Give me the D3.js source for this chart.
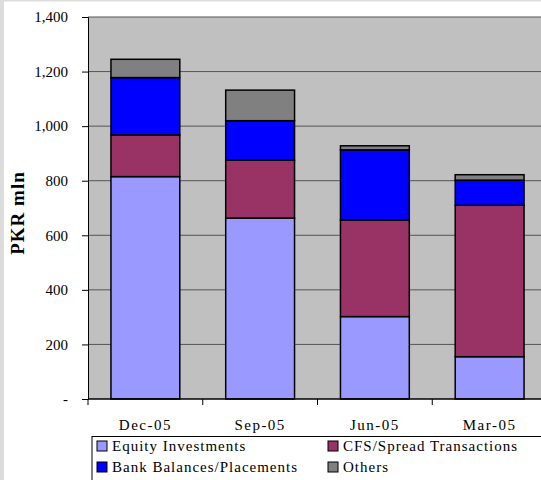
<!DOCTYPE html>
<html>
<head>
<meta charset="utf-8">
<script src="https://cdn.jsdelivr.net/npm/d3@7"></script>
<style>
  html, body { margin: 0; padding: 0; background: #ffffff; }
  svg { display: block; font-family: "Liberation Serif", "Times New Roman", serif; }
</style>
</head>
<body>
<svg id="chart" width="541" height="480"></svg>
<script>
// Quarter-end balances, PKR mln
const periods = ["Dec-05", "Sep-05", "Jun-05", "Mar-05"];
const seriesNames = ["Equity Investments", "CFS/Spread Transactions", "Bank Balances/Placements", "Others"];
const equityInvestments = [815, 663, 302, 155];
const cfsSpread = [153, 212, 354, 555];
const bankBalances = [210, 145, 257, 92];
const others = [67, 112, 15, 20];
const yTicks = [0, 200, 400, 600, 800, 1000, 1200, 1400];
const colors = ["#9999ff", "#993366", "#0000ff", "#808080"];

const rows = periods.map((p, i) => ({
  period: p,
  "Equity Investments": equityInvestments[i],
  "CFS/Spread Transactions": cfsSpread[i],
  "Bank Balances/Placements": bankBalances[i],
  "Others": others[i]
}));

const svg = d3.select("#chart");
const W = 541, H = 480;
const plot = { left: 88, top: 17, right: 547, bottom: 399 };

// frame strips
svg.append("rect").attr("x", 0).attr("y", 0).attr("width", W).attr("height", H).attr("fill", "#ffffff");
svg.append("rect").attr("x", 0).attr("y", 0).attr("width", 4).attr("height", H).attr("fill", "#dcdcdc");
svg.append("rect").attr("x", 0).attr("y", 0).attr("width", W).attr("height", 1.5).attr("fill", "#dcdcdc");

const x = d3.scaleBand().domain(periods).range([plot.left, plot.right]).paddingInner(0.4).paddingOuter(0.2);
const xb = d3.scaleBand().domain(periods).range([plot.left, plot.right]);
const y = d3.scaleLinear().domain([0, 1400]).range([plot.bottom, plot.top]);

// plot area
svg.append("rect")
  .attr("x", plot.left).attr("y", plot.top)
  .attr("width", plot.right - plot.left).attr("height", plot.bottom - plot.top)
  .attr("fill", "#c0c0c0");

// gridlines
svg.append("g").selectAll("line").data(yTicks.filter(t => t > 0)).join("line")
  .attr("x1", plot.left).attr("x2", plot.right)
  .attr("y1", d => y(d)).attr("y2", d => y(d))
  .attr("stroke", "#555555").attr("stroke-width", 1);

// stacked bars
const stack = d3.stack().keys(seriesNames);
const layers = stack(rows);
svg.append("g").selectAll("g").data(layers).join("g")
  .attr("fill", (d, i) => colors[i])
  .selectAll("rect").data(d => d).join("rect")
  .attr("x", d => x(d.data.period))
  .attr("width", x.bandwidth())
  .attr("y", d => y(d[1]))
  .attr("height", d => y(d[0]) - y(d[1]))
  .attr("stroke", "#000000").attr("stroke-width", 1.5);

// y axis
const yAxis = d3.axisLeft(y).tickValues(yTicks).tickSize(6).tickPadding(14)
  .tickFormat(d => d === 0 ? "-" : d3.format(",")(d));
const gy = svg.append("g").attr("transform", `translate(${plot.left},0)`).call(yAxis);
gy.select(".domain").attr("stroke", "#000000").attr("stroke-width", 1);
gy.selectAll(".tick line").attr("stroke", "#000000");
gy.selectAll(".tick text").attr("font-size", 15).attr("fill", "#000000")
  .attr("font-family", "Liberation Serif, serif");

// x axis
svg.append("line").attr("x1", plot.left).attr("x2", plot.right)
  .attr("y1", plot.bottom).attr("y2", plot.bottom).attr("stroke", "#000000").attr("stroke-width", 1.5);
svg.append("g").selectAll("line").data(periods).join("line")
  .attr("x1", d => xb(d)).attr("x2", d => xb(d))
  .attr("y1", plot.bottom).attr("y2", plot.bottom + 6)
  .attr("stroke", "#000000");
svg.append("g").selectAll("text").data(periods).join("text")
  .attr("x", d => xb(d) + xb.bandwidth() / 2)
  .attr("y", 430)
  .attr("text-anchor", "middle")
  .attr("font-size", 15)
  .attr("letter-spacing", "1.5px")
  .text(d => d);

// y title
svg.append("text")
  .attr("transform", "translate(24,213) rotate(-90)")
  .attr("text-anchor", "middle")
  .attr("font-size", 19).attr("font-weight", "bold")
  .attr("letter-spacing", "1px")
  .text("PKR mln");

// legend
const lg = svg.append("g");
lg.append("rect").attr("x", 92).attr("y", 436.5).attr("width", 470).attr("height", 60)
  .attr("fill", "#ffffff").attr("stroke", "#000000").attr("stroke-width", 1);
const legendPos = [[97, 446], [328, 446], [97, 467], [328, 467]];
seriesNames.forEach((name, i) => {
  const [lx, ly] = legendPos[i];
  lg.append("rect").attr("x", lx).attr("y", ly - 5).attr("width", 10).attr("height", 10)
    .attr("fill", colors[i]).attr("stroke", "#000000").attr("stroke-width", 1);
  lg.append("text").attr("x", lx + 15).attr("y", ly + 5)
    .attr("font-size", 15).attr("letter-spacing", "1px")
    .text(name);
});
</script>
</body>
</html>
